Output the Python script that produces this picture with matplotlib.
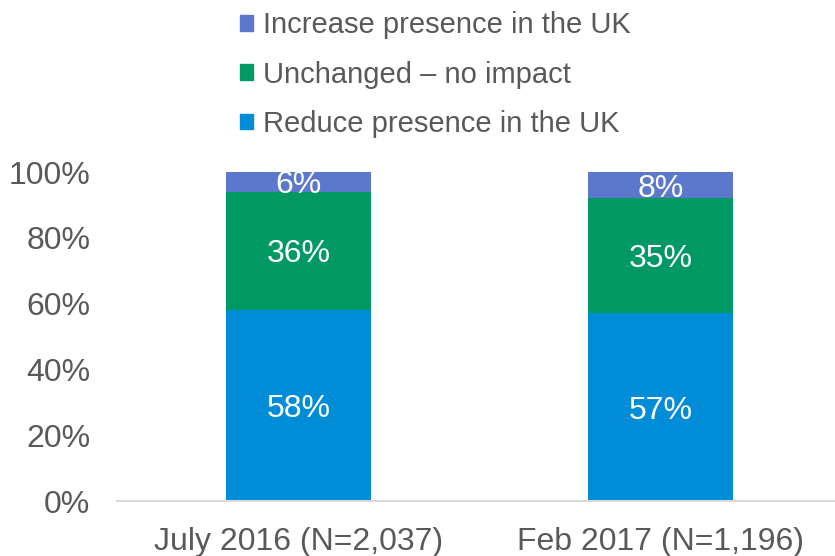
import matplotlib.pyplot as plt
from matplotlib.patches import Patch

plt.rcParams['font.family'] = ['Liberation Sans', 'DejaVu Sans']

# Data
categories = ["July 2016 (N=2,037)", "Feb 2017 (N=1,196)"]
reduce_vals = [58, 57]
unchanged_vals = [36, 35]
increase_vals = [6, 8]
series_names = ["Reduce presence in the UK", "Unchanged \u2013 no impact", "Increase presence in the UK"]
colors = ["#008cd6", "#009963", "#5b78cc"]

fig = plt.figure(figsize=(8.35, 5.56), dpi=100)
ax = fig.add_axes([0.1407, 0.0989, 0.8671, 0.5917])

x = range(len(categories))
bottoms = [0, 0]
for vals, name, col in zip([reduce_vals, unchanged_vals, increase_vals], series_names, colors):
    fracs = [v / 100 for v in vals]
    ax.bar(x, fracs, width=0.4, bottom=bottoms, color=col, label=name)
    for xi, b, f, v in zip(x, bottoms, fracs, vals):
        ax.text(xi, b + f / 2, f"{v}%", ha="center", va="center_baseline", color="white", fontsize=23)
    bottoms = [b + f for b, f in zip(bottoms, fracs)]

ax.set_xlim(-0.5, 1.5)
ax.set_ylim(0, 1)
ax.set_yticks([0, 0.2, 0.4, 0.6, 0.8, 1.0])
ax.set_yticklabels(["0%", "20%", "40%", "60%", "80%", "100%"])
ax.set_xticks(list(x))
ax.set_xticklabels(categories)
ax.tick_params(axis="both", length=0, labelsize=23, colors="#595959")
ax.tick_params(axis="y", pad=19.5)
ax.tick_params(axis="x", pad=19)
for s in ["top", "right", "left"]:
    ax.spines[s].set_visible(False)
ax.spines["bottom"].set_color("#d9d9d9")
ax.spines["bottom"].set_linewidth(1.5)
ax.spines["bottom"].set_clip_on(False)

handles = [Patch(color=c) for c in colors][::-1]
fig.legend(handles, series_names[::-1], loc="upper left", bbox_to_anchor=(0.2555, 1.027),
           frameon=False, fontsize=21, handlelength=0.45, handleheight=0.45,
           handletextpad=0.34, labelspacing=0.73, labelcolor="#595959")

plt.savefig("out.png")
